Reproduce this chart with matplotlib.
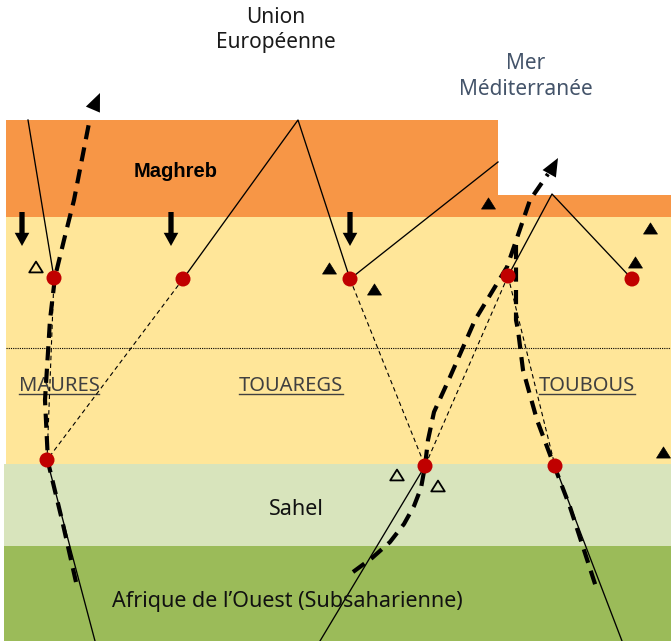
import matplotlib
matplotlib.use("Agg")
import matplotlib.pyplot as plt
from matplotlib.patches import Rectangle, Circle, FancyArrowPatch
from matplotlib.path import Path
import numpy as np

plt.rcParams['font.family'] = ['Noto Sans', 'DejaVu Sans']

W, H = 671, 641

# ---- regions (x0, x1, y_top, y_bottom, colour) ----
region_names = ['Maghreb', 'Maghreb (est)', 'Sahara', 'Sahel', "Afrique de l'Ouest"]
region_x0 = [6, 498, 6, 4, 4]
region_x1 = [498, 671, 671, 671, 671]
region_top = [120, 195, 217, 464, 546]
region_bot = [217, 217, 464, 546, 641]
region_col = ['#F79646', '#F79646', '#FFE699', '#D8E4BC', '#9BBB59']

# ---- nodes (red dots) ----
node_x = [54, 183, 350, 508, 632, 47, 425, 555]
node_y = [278, 279, 279, 276, 279, 460, 466, 466]

# ---- solid routes ----
solid_routes = [
    ([28, 54], [120, 278]),
    ([183, 298, 350], [279, 120, 279]),
    ([350, 498], [279, 162]),
    ([508, 552, 632], [276, 194, 279]),
    ([47, 95], [460, 641]),
    ([425, 320], [466, 641]),
    ([555, 622], [466, 641]),
]

# ---- thin dashed links (node index pairs) ----
thin_links = [(0, 5), (1, 5), (2, 6), (3, 6), (3, 7)]

# ---- thick dashed routes ----
thick_west_x = [76, 62, 48, 45, 50, 55, 64, 74, 90]
thick_west_y = [582, 520, 462, 400, 320, 277, 240, 200, 118]
thick_mid_x = [353, 372, 390, 404, 414, 421, 425, 428, 434, 450, 475, 507, 530, 548]
thick_mid_y = [572, 558, 542, 524, 506, 488, 466, 440, 412, 377, 320, 267, 200, 174]
thick_east_x = [516, 516, 518, 523, 537, 552, 570, 597]
thick_east_y = [245, 320, 330, 370, 420, 460, 507, 590]
arrow_heads = [((91, 114), (100, 93)), ((548, 176), (558, 158))]

# ---- down arrows ----
down_arrow_x = [22, 171, 350]
down_arrow_y0 = 212
down_arrow_y1 = 246

# ---- triangles ----
tri_filled_x = [329, 374, 488, 650, 635, 663]
tri_filled_y = [268, 289, 203, 228, 262, 452]
tri_open_x = [36, 397, 438]
tri_open_y = [267, 475, 486]

# ---- labels ----
ethnic_labels = ['MAURES', 'TOUAREGS', 'TOUBOUS']
ethnic_x = [59, 291, 587]

fig = plt.figure(figsize=(W / 100, H / 100), dpi=100)
ax = fig.add_axes([0, 0, 1, 1])
ax.set_xlim(0, W)
ax.set_ylim(H, 0)
ax.axis('off')

for x0, x1, t, b, c in zip(region_x0, region_x1, region_top, region_bot, region_col):
    ax.add_patch(Rectangle((x0, t), x1 - x0, b - t, facecolor=c, edgecolor='none', zorder=0))

# dotted line inside Sahara
ax.plot([6, 671], [348, 348], color='black', lw=0.8, linestyle=(0, (1, 1)), zorder=1)

for xs, ys in solid_routes:
    ax.plot(xs, ys, color='black', lw=0.95, zorder=3)

for a, b in thin_links:
    ax.plot([node_x[a], node_x[b]], [node_y[a], node_y[b]], color='black', lw=0.8,
            linestyle=(0, (4, 3)), zorder=3)

for xs, ys in [(thick_west_x, thick_west_y), (thick_mid_x, thick_mid_y), (thick_east_x, thick_east_y)]:
    ax.plot(xs, ys, color='black', lw=3.0, linestyle=(0, (3.4, 2.0)), zorder=4,
            solid_capstyle='butt', dash_capstyle='butt', solid_joinstyle='round',
            dash_joinstyle='round')

for (p0, p1) in arrow_heads:
    ax.add_patch(FancyArrowPatch(p0, p1, arrowstyle='-|>,head_length=1.3,head_width=0.55',
                                 mutation_scale=10, color='black', lw=0, shrinkA=0, shrinkB=0,
                                 zorder=5))

for x in down_arrow_x:
    ax.add_patch(FancyArrowPatch((x, down_arrow_y0), (x, down_arrow_y1),
                                 arrowstyle='simple,head_length=0.95,head_width=1.05,tail_width=0.38',
                                 mutation_scale=10, color='black', lw=0, shrinkA=0, shrinkB=0,
                                 zorder=5))

tri_path = Path([(-1, -0.8), (1, -0.8), (0, 0.8), (-1, -0.8)],
                [Path.MOVETO, Path.LINETO, Path.LINETO, Path.CLOSEPOLY])
ax.scatter(tri_filled_x, tri_filled_y, marker=tri_path, s=100,
           facecolor='black', edgecolor='black', linewidths=0.5, zorder=5)
ax.scatter(tri_open_x, tri_open_y, marker=tri_path, s=95,
           facecolor='none', edgecolor='black', linewidths=1.3, zorder=5)

for x, y in zip(node_x, node_y):
    ax.add_patch(Circle((x, y), 7.5, facecolor='#C00000', edgecolor='none', zorder=6))

# texts
ax.text(276, 23, 'Union', ha='center', va='baseline', fontsize=15, color='#1a1a1a')
ax.text(276, 48, 'Européenne', ha='center', va='baseline', fontsize=15, color='#1a1a1a')
ax.text(526, 69, 'Mer', ha='center', va='baseline', fontsize=15, color='#44546A')
ax.text(526, 95, 'Méditerranée', ha='center', va='baseline', fontsize=15, color='#44546A')
ax.text(176, 177, 'Maghreb', ha='center', va='baseline', fontsize=14.5, fontweight='bold',
        family=['Liberation Sans', 'DejaVu Sans'], color='black')
ax.text(296, 515, 'Sahel', ha='center', va='baseline', fontsize=15.5, color='#111111')
ax.text(287, 607, 'Afrique de l’Ouest (Subsaharienne)', ha='center', va='baseline',
        fontsize=15.5, color='#111111')

eth_texts = []
for lab, x in zip(ethnic_labels, ethnic_x):
    eth_texts.append(ax.text(x, 391, lab, ha='center', va='baseline', fontsize=14.5,
                             color='#404040', zorder=2))

fig.canvas.draw()
inv = ax.transData.inverted()
for t in eth_texts:
    bb = t.get_window_extent()
    (xa, _), (xb, _) = inv.transform([(bb.x0, bb.y0), (bb.x1, bb.y0)])
    ax.plot([xa, xb], [393.5, 393.5], color='#404040', lw=1.0, zorder=2)

fig.savefig('out.png', dpi=100)
